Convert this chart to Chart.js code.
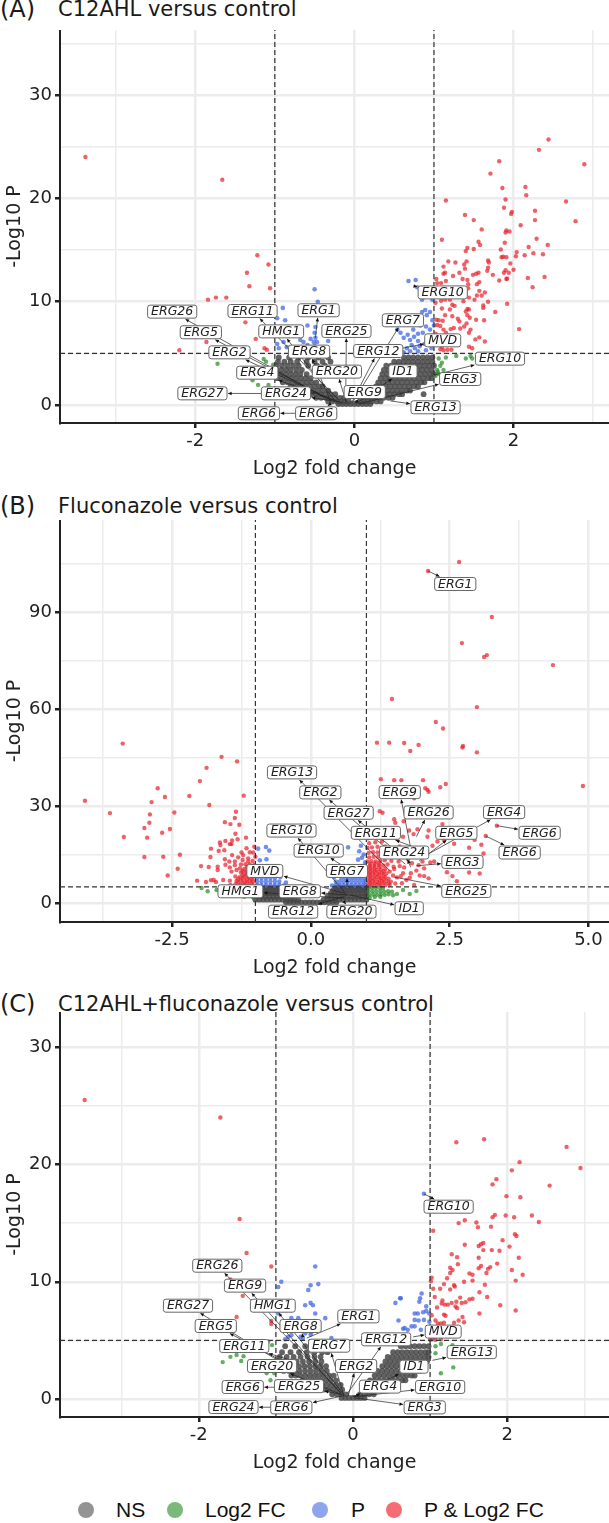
<!DOCTYPE html>
<html>
<head>
<meta charset="utf-8">
<script src="https://cdn.jsdelivr.net/npm/chart.js@4"></script>
<style>
  html, body { margin: 0; padding: 0; background: #fff; }
  body { position: relative; width: 609px; height: 1523px; overflow: hidden; font-family: "DejaVu Sans", sans-serif; color: #1a1a1a; }
  canvas { position: absolute; left: 0; }
  .tag { position: absolute; left: 0; font-size: 24px; line-height: 24px; }
  .head { position: absolute; left: 58px; font-size: 21px; line-height: 24px; white-space: nowrap; }
  .key { position: absolute; top: 1497px; font-family: "Liberation Sans", sans-serif; font-size: 21px; line-height: 26px; color: #111; white-space: nowrap; }
  .dot { position: absolute; top: 1502px; width: 16px; height: 16px; border-radius: 50%; }
</style>
</head>
<body>
<div class="tag" style="top:-3px">(A)</div><div class="head" style="top:-3px">C12AHL versus control</div>
<div class="tag" style="top:494px">(B)</div><div class="head" style="top:494px">Fluconazole versus control</div>
<div class="tag" style="top:992px">(C)</div><div class="head" style="top:992px">C12AHL+fluconazole versus control</div>
<canvas id="chart-a" width="609" height="450" style="top:30px"></canvas>
<canvas id="chart-b" width="609" height="459" style="top:520px"></canvas>
<canvas id="chart-c" width="609" height="462" style="top:1012px"></canvas>
<div class="dot" style="left:78px;background:rgba(77,77,77,.6)"></div><div class="key" style="left:116px">NS</div>
<div class="dot" style="left:167px;background:rgba(34,139,34,.6)"></div><div class="key" style="left:205px">Log2 FC</div>
<div class="dot" style="left:312px;background:rgba(65,105,225,.6)"></div><div class="key" style="left:351px">P</div>
<div class="dot" style="left:386px;background:rgba(240,30,40,.65)"></div><div class="key" style="left:424px">P &amp; Log2 FC</div>
<script>
// panel A
const redA = [[2.44,25.7],[2.32,24.7],[2.89,23.3],[1.82,23.6],[1.71,22.4],[1.86,21],[2.15,21.1],[2.16,20.3],[1.15,19.8],[1.9,19.9],[2.66,19.7],[1.88,19.1],[2.27,18.8],[1.98,18.7],[1.97,18.5],[1.39,18.4],[1.5,17.9],[2.27,17.9],[2.78,17.8],[2.09,17.4],[1.6,17],[1.91,16.9],[1.95,16.8],[1.9,16.7],[2.29,16.1],[1.1,16],[1.56,15.8],[1.58,15.5],[1.89,15.7],[2.43,15.5],[1.42,15.2],[1.5,15.1],[1.4,14.9],[1.84,15.05],[2.19,15.3],[2.04,14.8],[2.03,14.4],[2.25,14.7],[2.14,14.5],[2.37,14.6],[1.85,14.3],[1.87,14.35],[1.91,14.3],[1.18,13.9],[1.27,13.8],[1.41,13.9],[1.68,14],[1.69,13.8],[1.12,13.4],[1.38,13.6],[1.39,13.2],[1.68,13.3],[1.96,13.7],[1.94,12.8],[2,13.1],[1.9,13.05],[1.88,12.8],[1.14,12.8],[1.12,12.7],[1.24,12.5],[1.32,12.8],[1.67,13],[1.49,12.6],[1.53,12.7],[1.56,12.8],[1.74,12.6],[2.18,12.3],[2.39,12.4],[1.03,12.2],[1.04,11.8],[1.09,11.8],[1.15,12],[1.36,12.2],[1.42,12.1],[1.43,11.7],[1.57,11.9],[1.54,11.7],[1.82,12.05],[1.91,12.2],[1.92,12.25],[2.24,11.4],[1.43,11.3],[1.57,11.05],[1.64,10.9],[1.54,10.6],[1.6,10.6],[1.44,10.4],[1.51,10.2],[1.4,10.8],[1.02,9.9],[1.09,10.1],[1.14,10.2],[1.2,10.2],[1.37,10.05],[1.68,10],[1.92,9.8],[1.23,9.7],[1.26,9.6],[1.62,9.65],[1.62,9.4],[1.1,9.35],[1.2,9.25],[1.42,9.3],[1.44,9.25],[1.4,9.05],[1.77,9],[1.14,8.7],[1.23,8.6],[1.42,8.7],[1.45,8.45],[1.53,8.25],[1.63,8.2],[1.03,8.25],[1.06,8.2],[1.11,8.15],[1.3,8.35],[1.32,8.1],[1.41,7.9],[1.04,7.75],[1.08,7.65],[1.12,7.3],[1.21,7.35],[1.25,7.45],[1.33,7.4],[1.38,7.6],[1.46,7.3],[2.07,7.35],[1.02,6.9],[1.15,7],[1.44,7],[1.52,6.35],[1.57,6.55],[1.64,6.15],[1.08,5.4],[1.12,5.3],[1.17,5.35],[1.22,5.35],[1.1,5.65],[1.44,5.65],[1.48,5.5],[-3.38,24],[-1.66,21.8],[-1.22,14.5],[-1.08,13.6],[-1.35,12.8],[-1.32,11.5],[-1.06,11.3],[-1.84,10.2],[-1.74,10.4],[-1.61,10.4],[-1.37,8],[-1.24,6.4],[-1.86,6.1],[-2.2,5.3],[-1.13,5.5],[-1.1,5.35]];
const greenA = [[-1.72,4],[-1.14,4.45],[-1.11,4.2],[-1.02,3.9],[-1.21,1.95],[-1.08,1.95],[-1.28,2.4],[1.06,4.5],[1.15,4.6],[1.04,3.4],[1.08,3.8],[1.05,3.2],[1.12,3.4],[1.28,4.75],[1.4,4.5],[1.48,4.5],[1.46,4.75],[1.02,2.8],[1.06,3],[1.1,4.1]];
const blueA = [[-.5,11.2],[-.46,10],[-.9,9.4],[-.97,8.4],[-.87,8.2],[-.49,7.55],[-.59,7.7],[-.5,7],[-.89,6.1],[-.68,6.3],[-.33,6.2],[-.64,6.1],[-.55,6.4],[-.49,6.5],[-.51,6.1],[-.47,6.1],[-.59,5.8],[-.95,5.5],[-.97,5.9],[-.85,5.6],[-.5,5.7],[-.44,5.5],[.68,12],[.77,12.1],[.79,11.4],[.83,10.65],[.85,10.2],[.95,10.6],[.98,10.2],[.89,9.2],[.85,9],[.95,9],[.91,8.7],[.98,8.2],[1,7.7],[.54,7.3],[.58,7],[.67,6.8],[.74,7.3],[.83,7.7],[.95,7.3],[.9,7.6],[.62,6.5],[.7,6.3],[.75,6.6],[.8,6.2],[.72,5.8],[.66,5.5],[.76,5.5],[.82,5.7],[.88,5.9],[.94,6.2],[.98,6.7],[.7,5.2],[.8,5.2],[.9,5.3],[.97,5.5],[.62,5.1],[.92,6.7],[.86,7],[.8,6.9]];
const nsA = [
  [.1,-.2,-.15,-.1,-.05,0,.05,.1,.15,.2],
  [.35,-.33,-.28,-.22,-.17,-.12,-.07,.07,.12,.17,.22,.28,.33],
  [.7,-.48,-.42,-.36,-.3,-.24,-.18,-.13,.13,.19,.25,.31,.37,.43,.48],
  [1.05,-.6,-.54,-.48,-.42,-.36,-.3,-.24,.2,.26,.32,.38,.44,.5,.56,.6,.87],
  [1.4,-.7,-.64,-.58,-.52,-.46,-.4,-.33,.24,.3,.36,.42,.48,.54,.6,.66,.7],
  [1.8,-.8,-.74,-.68,-.62,-.56,-.5,-.44,-.4,.27,.33,.39,.45,.51,.57,.63,.69,.75,.8],
  [2.2,-.9,-.84,-.78,-.72,-.66,-.6,-.54,-.48,.3,.36,.42,.48,.54,.6,.66,.72,.78,.84,.88],
  [2.6,-.97,-.91,-.85,-.79,-.73,-.67,-.61,-.55,.33,.39,.45,.51,.57,.63,.69,.75,.81,.87,.93,.97],
  [3,-.98,-.92,-.86,-.8,-.74,-.68,-.6,.35,.41,.47,.53,.59,.65,.71,.77,.83,.89,.95,1],
  [3.4,-.98,-.92,-.86,-.8,-.73,-.66,-.5,-.42,.37,.43,.49,.55,.61,.67,.73,.79,.85,.91,.97],
  [3.8,-.98,-.91,-.84,-.77,-.7,-.58,-.47,-.37,.4,.46,.52,.58,.64,.7,.76,.82,.88,.94,1],
  [4.2,-.96,-.88,-.8,-.72,-.6,-.5,-.4,-.3,.5,.56,.62,.68,.74,.8,.86,.92,.98],
  [4.6,-.95,-.82,-.7,-.58,-.45,-.33,.62,.68,.74,.8,.86,.92,.98]
];
const gridXA = [-3,-2,-1,0,1,2,3], labelXA = {'-2':'-2','0':'0','2':'2'};
const gridYA = [0,5,10,15,20,25,30,35], labelYA = {'0':'0','10':'10','20':'20','30':'30'};
const genesA = [['ERG26',-2.29,9.04,-.35,.6],['ERG11',-1.28,9.1,-.2,.5],['ERG1',-.45,9.17,-.49,6.5],['HMG1',-.92,7.13,-.25,.5],['ERG5',-1.93,7.04,-.3,.5],['ERG25',-.1,7.17,-.11,.4],['ERG7',.61,8.2,-.02,.3],['MVD',1.11,6.26,.6,5.5],['ERG10',1.11,10.9,.76,11.5],['ERG2',-1.57,5.1,-.25,.4],['ERG8',-.57,5.17,-.3,.4],['ERG12',.3,5.23,-.03,.3],['ERG10',1.83,4.49,1,2.9],['ERG4',-1.22,3.13,-.15,.2],['ERG20',-.22,3.23,-.1,.2],['ID1',.61,3.26,.03,.2],['ERG3',1.33,2.52,.05,.1],['ERG27',-1.91,1.13,-.5,1.1],['ERG24',-.86,1.13,-.2,.3],['ERG9',.13,1.26,0,.1],['ERG13',1.02,-.22,.45,.4],['ERG6',-1.2,-.8,-.55,-.8],['ERG6',-.48,-.8,-.3,.1]];

// panel B
const redB = [[2.11,102.7],[2.67,105.5],[3.26,88.5],[2.72,80.4],[3.17,76.7],[3.12,76.1],[4.36,73.6],[1.46,63.1],[2.99,60.6],[2.25,56],[2.38,54],[2.74,48.6],[1.68,49.5],[1.19,49.6],[1.41,49.6],[1.94,48.9],[1.79,47],[2.73,48.1],[2.99,46.6],[4.9,36.2],[1.26,38.3],[1.5,38],[1.63,38],[2.02,38],[2.43,36.8],[2.33,35.8],[2.06,35.5],[2.12,34.4],[2.1,35],[1.86,32.4],[1.24,28.4],[1.29,27.9],[1.5,25.9],[1.52,24.8],[1.67,25.3],[2.37,24.4],[3.35,23.9],[3.15,20.7],[1.92,22.8],[1.77,22.4],[1.85,21.3],[1.66,20.5],[2.12,22.4],[2.1,20.5],[2.4,19.5],[2.28,19],[2.19,17.7],[2.58,18.3],[2.95,19.5],[3.07,18],[2.85,17.1],[3.11,15.3],[2.22,12.8],[2.15,12.5],[2.04,10.7],[2.45,9.5],[2.55,8.3],[2.85,9.4],[3.04,9.1],[2.63,6.7],[2.04,8.3],[2.12,7.6],[2.01,12.8],[1.94,11.7],[1.8,9.2],[1.66,9.2],[1.6,11.4],[1.82,12.3],[1.49,11.2],[1.72,7.1],[1.86,5.6],[1.64,6.1],[1.55,7.9],[1.42,9.7],
  [1.03,5.4],[1.1,5.5],[1.18,5.4],[1.26,5.5],[1.34,5.5],[1.42,5.6],[1.05,6.6],[1.12,6.7],[1.2,6.5],[1.28,6.7],[1.36,6.8],[1.44,6.6],[1.03,7.8],[1.1,7.8],[1.18,7.9],[1.26,7.7],[1.34,8],[1.05,9],[1.12,9.1],[1.2,9],[1.28,9.2],[1.36,9.1],[1.03,10.2],[1.1,10.3],[1.18,10.2],[1.26,10.4],[1.34,10.5],[1.06,11.5],[1.14,11.5],[1.22,11.7],[1.3,11.6],[1.38,11.9],[1.02,12.8],[1.09,12.9],[1.17,12.8],[1.25,13],[1.33,13.2],[1.45,13],[1.05,14.1],[1.13,14.3],[1.21,14.2],[1.3,14.5],[1.4,14.6],[1.04,15.5],[1.12,15.7],[1.2,15.6],[1.3,16],[1.42,16.2],[1.02,17],[1.1,17.2],[1.2,17.4],[1.34,17.5],[1.05,18.5],[1.16,18.8],[1.28,19],[1.03,20],[1.1,20.3],[1.42,20.5],[1.55,19.8],[1.6,17.5],[1.7,16],[1.85,15],[1.55,14.5],[1.75,13.5],
  [1.07,6],[1.15,6.1],[1.23,6],[1.31,6.2],[1.4,6.1],[1.07,7.2],[1.15,7.3],[1.23,7.2],[1.31,7.4],[1.4,7.5],[1.07,8.4],[1.15,8.5],[1.23,8.4],[1.31,8.6],[1.07,9.6],[1.15,9.7],[1.23,9.6],[1.31,9.8],[1.07,10.9],[1.15,10.9],[1.23,11],[1.07,12.1],[1.15,12.2],[1.23,12.3],[1.48,8.5],[1.52,6],[1.5,10.5],[1.62,8.3],[1.58,12.8],[1.68,11],[1.78,7.8],[1.9,10],[1.96,8.5],
  [-3.39,49.3],[-1.61,45.2],[-1.33,43.8],[-1.88,41.8],[-2,37.7],[-2.76,35.5],[-2.63,32.8],[-2.19,33.1],[-1.21,33.2],[-4.07,31.6],[-2.87,31.2],[-1.83,30.3],[-3.62,27.8],[-2.9,27.4],[-2.46,28],[-1.35,28.2],[-1.37,26.3],[-2.91,24.8],[-1.55,25],[-1.45,24.4],[-1.29,24.2],[-3,23.2],[-2.54,22.9],[-2.68,21.7],[-1.36,21.4],[-3.37,20.4],[-2.95,20.2],[-1.17,20.2],[-1.32,19.7],[-1.64,18.7],[-1.54,19.2],[-1.42,19.3],[-1.63,17.9],[-1.46,18.2],[-1.43,18.2],[-1.8,16.8],[-1.02,17.4],[-1.66,16.1],[-1.56,16.3],[-1.16,16.9],[-2.36,14.9],[-3,14.2],[-2.66,14.3],[-1.81,14.2],[-1.25,15.6],[-1.1,15.7],[-1.04,15.6],[-1.42,14.8],[-1.31,14.1],[-1.22,14.8],[-1.55,13.5],[-1.47,12.8],[-1.37,12.8],[-1.23,13.3],[-1.13,13.8],[-1,14.3],[-2.4,10.6],[-1.98,11.4],[-1.84,11.1],[-1.68,11.2],[-1.68,10.2],[-1.54,11.8],[-1.46,11],[-1.37,11.7],[-1.43,9.7],[-1.34,10.2],[-2.58,8.5],[-2.05,6.9],[-1.8,7],[-1.75,7.1],[-1.71,6.5],[-1.89,6.5],[-1.58,7.1],[-1.46,6.9],
  [-1.05,5.5],[-1.12,5.4],[-1.2,5.6],[-1.28,5.5],[-1.36,5.7],[-1.45,5.6],[-1.03,6.7],[-1.1,6.8],[-1.18,6.7],[-1.26,6.9],[-1.34,6.8],[-1.05,8],[-1.12,8],[-1.2,8.1],[-1.28,8],[-1.36,8.2],[-1.03,9.2],[-1.1,9.3],[-1.18,9.2],[-1.26,9.4],[-1.04,10.5],[-1.12,10.6],[-1.2,10.5],[-1.28,10.7],[-1.02,11.8],[-1.1,11.9],[-1.18,12],[-1.26,11.9],[-1.05,13],[-1.13,12.8],
  [-1.07,6.1],[-1.15,6.2],[-1.23,6.1],[-1.31,6.3],[-1.07,7.4],[-1.15,7.4],[-1.23,7.5],[-1.31,7.4],[-1.07,8.6],[-1.15,8.7],[-1.23,8.6],[-1.07,9.9],[-1.15,9.8],[-1.23,9.9],[-1.07,11.2],[-1.15,11.2]];
const greenB = [[1.04,4.6],[1.1,4.7],[1.17,4.6],[1.24,4.7],[1.3,4.6],[1.04,3.5],[1.11,3.6],[1.18,3.5],[1.25,3.6],[1.32,3.5],[1.39,3.6],[1.46,3.5],[1.05,2.5],[1.12,2.6],[1.19,2.5],[1.26,2.6],[1.33,2.5],[1.4,2.7],[1.48,2.4],[1.66,4],[1.78,2.8],[1.9,3.7],[1.55,2.8],[1.06,1.7],[1.15,1.8],[1.25,1.9],[-1.97,4.6],[-1.86,3.6],[-1.7,4],[-1.2,1.9],[-1.1,2.2],[-1.03,1.6],[-1.5,3.4]];
const blueB = [[-.81,17.3],[-.95,16.8],[-.75,16.2],[-.8,13.5],[-.92,13.2],[-.7,10],[-.95,11],[-.85,10.5],[-.55,8],[-.62,8.5],[-.97,5.5],[-.89,5.5],[-.81,5.5],[-.73,5.5],[-.65,5.5],[-.57,5.5],[-.49,5.4],[-.97,6.6],[-.89,6.6],[-.81,6.6],[-.73,6.6],[-.65,6.6],[-.57,6.6],[-.97,7.7],[-.89,7.7],[-.81,7.7],[-.73,7.7],[-.65,7.7],[-.97,8.8],[-.89,8.8],[-.81,8.8],[-.45,6.3],
  [.67,17.2],[.9,17.7],[.87,16],[.92,14],[.95,15],[.85,13.4],[.55,9],[.42,8],[.98,9],[.38,5.4],[.45,5.5],[.52,5.5],[.59,5.5],[.66,5.5],[.73,5.5],[.8,5.5],[.87,5.5],[.94,5.5],[.99,5.5],[.45,6.6],[.52,6.6],[.59,6.6],[.66,6.6],[.73,6.6],[.8,6.6],[.87,6.6],[.94,6.6],[.99,6.6],[.55,7.7],[.62,7.7],[.69,7.7],[.76,7.7],[.83,7.7],[.9,7.7],[.97,7.7],[.97,8.8],[.88,8.8],[.97,10],[.95,11.5],[.98,12.6]];
const nsB = [
  [.2,-.45,-.38,-.31,-.24,-.17,-.1,-.03,.04,.11,.18,.25,.32,.39,.46],
  [1,-1,-.93,-.86,-.79,-.72,-.65,-.58,-.51,-.44,-.37,-.3,-.23,.23,.3,.37,.44,.51,.58,.65,.72,.79,.86,.93,1],
  [2,-1.03,-.96,-.89,-.82,-.75,-.68,-.61,-.54,-.47,-.4,-.33,.3,.37,.44,.51,.58,.65,.72,.79,.86,.93,1],
  [3,-.98,-.91,-.84,-.77,-.7,-.63,-.56,-.49,-.42,.36,.43,.5,.57,.64,.71,.78,.85,.92,.99],
  [3.9,-.98,-.91,-.84,-.77,-.7,-.63,-.56,-.49,.4,.47,.54,.61,.68,.75,.82,.89,.96,1],
  [4.7,-.98,-.9,-.82,-.74,-.66,-.58,.45,.52,.59,.66,.73,.8,.87,.94,1]
];
const gridXB = [-3.75,-2.5,-1.25,0,1.25,2.5,3.75,5], labelXB = {'-2.5':'-2.5','0':'0.0','2.5':'2.5','5':'5.0'};
const gridYB = [0,15,30,45,60,75,90,105], labelYB = {'0':'0','30':'30','60':'60','90':'90'};
const genesB = [['ERG1',2.6,98.7,2.11,102.7],['ERG13',-.34,40.4,1.42,10],['ERG2',.17,34.2,1.7,12],['ERG9',1.6,34.3,1.82,15],['ERG27',.68,27.9,1.8,12.5],['ERG26',2.12,28,1.9,20.5],['ERG4',3.48,28.1,2.1,15],['ERG11',1.17,21.7,1.9,17],['ERG5',2.62,21.7,1.95,13],['ERG10',-.35,22.4,.65,2.5],['ERG10',.14,16.2,.62,11],['ERG24',1.68,15.6,1.8,11],['ERG6',4.12,21.7,3.35,23.9],['ERG6',3.76,15.6,3.15,20.7],['ERG3',2.73,12.7,1.9,11.5],['MVD',-.83,9.9,.6,3],['ERG7',.65,9.9,.65,5],['HMG1',-1.27,3.6,.6,1.5],['ERG8',-.2,3.6,.65,2.5],['ERG25',2.8,3.7,1.5,8],['ID1',1.77,-1.65,.7,2.5],['ERG12',-.32,-2.7,.6,2],['ERG20',.73,-2.7,.6,.3]];

// panel C
const redC = [[1.34,21.9],[1.7,22.15],[2.77,21.5],[2.95,19.7],[2.16,20.2],[2.06,19.5],[1.86,18.75],[1.81,18.3],[2.55,18.2],[1.99,17.3],[2.17,17.2],[1.84,15.7],[1.81,15.5],[1.98,15.65],[2.09,15.5],[2.32,15.65],[2.41,15.1],[1.45,15.25],[1.37,15],[1.6,15.05],[1.62,14.65],[1.79,14.7],[1.04,14.35],[2.1,14.05],[2.12,13.9],[1.94,13.55],[1.45,13.15],[1.63,13.05],[1.66,13.2],[1.69,13.3],[2.03,13],[1.69,12.7],[1.8,12.7],[1.9,12.65],[1.28,12.35],[1.35,12.1],[1.63,12.05],[2.15,12.05],[1.36,11.5],[1.87,11.55],[1.66,11.35],[1.63,11.15],[1.78,11.25],[1.75,11.1],[1.26,11.2],[1.29,11],[1.26,10.75],[2.06,11],[1.73,10.75],[2.2,10.6],[1.51,10.7],[1.55,10.6],[1.22,10.3],[1.55,10.1],[1.44,10],[2.11,10.1],[1.02,10.35],[1.01,10.05],[1.18,9.8],[1.31,9.7],[1.32,9.6],[1.71,9.75],[1.04,9.4],[1.13,9.4],[1.26,9.35],[1.64,9.1],[1.06,8.7],[1.39,8.65],[1.74,8.7],[1.16,8.4],[1.15,8.15],[1.19,8.05],[1.23,8.05],[1.28,8.2],[1.34,8.3],[1.41,8.2],[1.46,8.25],[1.51,8.5],[1.55,8.55],[1.91,8],[1.09,7.8],[1.33,7.9],[1.35,7.75],[2.11,7.55],[1.64,7.3],[1.18,7.2],[1.2,7.1],[1.02,7.15],[1.42,7],[1.37,6.7],[1.07,6.7],[1.31,6.5],[1.44,6.55],[1.1,6.45],[1.18,6.5],[1.14,6.45],[1.03,5.1],[1.07,5.05],[1.14,5.1],[1,5.05],[-3.48,25.5],[-1.72,24],[-1.47,15.35],[-1.38,12.45],[-1.06,11.3],[-1.59,10.2],[-1.43,8.8],[-1.51,7],[-1.06,6.65],[-1.06,6.4]];
const greenC = [[-1.69,3.15],[-1.59,3.6],[-1.51,3.75],[-1.42,3.65],[-1.45,3.25],[-1.12,2.2],[-1.02,2.2],[-1.07,1.6],[-1.1,4.9],[-1.05,4.6],[1.07,4.5],[1.14,4.7],[1.07,3.9],[1.3,2.7],[1.14,2.2],[1.29,4.6]];
const blueC = [[-.49,11.3],[-.93,10],[-.55,9.7],[-.45,9.8],[-.58,9.3],[-.97,9.55],[-.62,8],[-.55,8.2],[-.52,8],[-.49,7.3],[-.97,7.3],[-.8,6.9],[-.71,6.9],[-.36,6.9],[-.8,5.45],[-.84,5.3],[-.65,5.2],[-.55,5.5],[-.28,5.2],[-.88,5.1],[-.62,5.6],[-.68,5.3],[-.54,5.7],[.92,17.5],[.89,9],[.87,8.6],[.86,8.3],[.61,8.6],[.95,7.9],[.84,7.3],[.95,7.5],[.99,7.3],[.8,6.75],[.92,6.75],[.99,6.6],[.59,6.7],[.71,5.9],[.8,6.2],[.88,5.9],[.65,6],[.97,5.9],[.55,8.2],[.62,8.6],[.67,6.05],[.8,7.3],[.76,6.2],[.85,6.7],[.91,7.4]];
const nsC = [
  [.1,-.15,-.1,-.05,0,.05,.1,.15],
  [.4,-.27,-.21,-.15,-.09,.09,.15,.21,.27],
  [.8,-.38,-.32,-.26,-.2,-.14,.12,.18,.24,.3,.36,.4],
  [1.2,-.52,-.46,-.4,-.34,-.28,-.22,-.16,.16,.22,.28,.34,.4,.46,.52,.56,.87],
  [1.6,-.65,-.59,-.53,-.47,-.41,-.35,-.29,-.22,.22,.28,.34,.4,.46,.52,.58,.64,.68],
  [2,-.8,-.74,-.68,-.62,-.56,-.5,-.44,-.38,-.31,-.25,.28,.34,.4,.46,.52,.58,.64,.7,.76,.8],
  [2.4,-.9,-.83,-.76,-.69,-.62,-.55,-.48,-.41,-.34,.32,.38,.44,.5,.56,.62,.68,.74,.8,.86],
  [2.8,-.98,-.91,-.84,-.77,-.7,-.63,-.56,-.49,-.42,-.35,.38,.44,.5,.56,.62,.68,.74,.8,.86,.92],
  [3.2,-.97,-.89,-.81,-.73,-.65,-.57,-.49,-.41,.42,.48,.54,.6,.66,.72,.78,.84,.9,.96],
  [3.6,-.95,-.86,-.77,-.68,-.59,-.5,-.42,.45,.51,.57,.63,.69,.75,.81,.87,.93,.98],
  [4,-.92,-.81,-.7,-.6,-.5,-.4,-.33,.52,.58,.64,.7,.76,.82,.88,.94,.98],
  [4.5,-.88,-.75,-.62,-.5,-.38,-.3,.62,.68,.74,.8,.86,.92,.98]
];
const gridXC = [-3,-2,-1,0,1,2,3], labelXC = {'-2':'-2','0':'0','2':'2'};
const gridYC = [0,5,10,15,20,25,30], labelYC = {'0':'0','10':'10','20':'20','30':'30'};
const genesC = [['ERG26',-1.76,11.37,-.15,.5],['ERG9',-1.4,9.67,-.15,.4],['ERG27',-2.14,7.96,-.7,2.2],['HMG1',-1.04,7.96,-.12,.4],['ERG5',-1.78,6.23,-.85,3],['ERG1',.07,7.05,-.6,5.2],['ERG8',-.68,6.23,-.65,5.3],['ERG7',-.31,4.55,-.12,.3],['ERG12',.43,5.09,-.07,.5],['MVD',1.17,5.75,.78,5.3],['ERG13',1.54,4,1.03,3.3],['ERG11',-1.41,4.52,-.85,3.4],['ERG20',-1.05,2.82,-.12,.3],['ERG2',.04,2.82,-.06,.3],['ID1',.79,2.76,0,.2],['ERG6',-1.43,1.03,-.95,1],['ERG25',-.7,1.1,-.15,.4],['ERG4',.35,1.06,0,.2],['ERG10',1.13,1.03,.02,.2],['ERG24',-1.55,-.68,-1,-.7],['ERG6',-.8,-.71,-.15,.25],['ERG3',.93,-.71,.03,.1],['ERG10',1.24,16.4,.92,17.5]];

const FONT = '"DejaVu Sans", sans-serif';
const toPoints = rows => rows.map(p => ({ x: p[0], y: p[1] }));
const rowsToPoints = rows => rows.flatMap(r => r.slice(1).map(x => ({ x: x, y: r[0] })));

// boxes and arrows of the gene labels, placed through the chart's scales
const geneLabels = {
  id: 'geneLabels',
  afterDatasetsDraw(chart, args, opts) {
    const { ctx, scales: { x, y } } = chart;
    ctx.font = 'italic 12.5px ' + FONT;
    const boxes = opts.genes.map(g => ({
      name: g[0], cx: x.getPixelForValue(g[1]), cy: y.getPixelForValue(g[2]),
      gx: x.getPixelForValue(g[3]), gy: y.getPixelForValue(g[4]),
      w: ctx.measureText(g[0]).width + 7, h: 13
    }));
    ctx.save();
    ctx.strokeStyle = '#222'; ctx.fillStyle = '#111'; ctx.lineWidth = 0.7;
    boxes.forEach(b => {
      const dx = b.gx - b.cx, dy = b.gy - b.cy;
      const t = Math.min(dx ? (b.w / 2 + 1) / Math.abs(dx) : 9, dy ? (b.h / 2 + 1) / Math.abs(dy) : 9);
      if (t >= 1) return;
      const tx = b.cx + dx * t, ty = b.cy + dy * t;
      ctx.beginPath(); ctx.moveTo(b.gx, b.gy); ctx.lineTo(tx, ty); ctx.stroke();
      const a = Math.atan2(-dy, -dx);
      ctx.beginPath(); ctx.moveTo(tx, ty);
      ctx.lineTo(tx - 4 * Math.cos(a - 0.45), ty - 4 * Math.sin(a - 0.45));
      ctx.lineTo(tx - 4 * Math.cos(a + 0.45), ty - 4 * Math.sin(a + 0.45));
      ctx.closePath(); ctx.fill();
    });
    boxes.forEach(b => {
      ctx.beginPath();
      ctx.roundRect(b.cx - b.w / 2, b.cy - b.h / 2, b.w, b.h, 2.5);
      ctx.fillStyle = '#fff'; ctx.fill();
      ctx.strokeStyle = '#666'; ctx.lineWidth = 1; ctx.stroke();
      ctx.fillStyle = '#222'; ctx.font = 'italic 12.5px ' + FONT;
      ctx.textAlign = 'center'; ctx.textBaseline = 'middle';
      ctx.fillText(b.name, b.cx, b.cy + 0.5);
    });
    ctx.restore();
  }
};

function axis(min, max, gridVals, labelMap, title, isX) {
  return {
    type: 'linear', min: min, max: max,
    afterBuildTicks: s => { s.ticks = gridVals.map(v => ({ value: v })); },
    afterFit: s => {
      if (isX) s.height = 57; else s.width = 60;
      s.paddingTop = s.paddingBottom = s.paddingLeft = s.paddingRight = 0;
    },
    border: { display: true, color: '#222', width: 2 },
    grid: {
      color: '#ececec', drawTicks: true, tickLength: 5,
      lineWidth: c => (c.tick && labelMap[c.tick.value] !== undefined ? 2.5 : 1.5),
      tickColor: c => (c.tick && labelMap[c.tick.value] !== undefined ? '#222' : 'rgba(0,0,0,0)')
    },
    ticks: { autoSkip: false, maxRotation: 0, color: '#222', padding: 3, font: { family: FONT, size: 18 },
             callback: v => (labelMap[v] !== undefined ? labelMap[v] : '') },
    title: { display: true, text: title, color: '#222', font: { family: FONT, size: 19 }, padding: isX ? { top: 1, bottom: 0 } : { top: 4, bottom: 0 } }
  };
}

// thresholds: log2 FC = +/-1, -log10 P = 5
function dashLines(cfg) {
  const dash = (p, q) => ({ data: [p, q], showLine: true, pointRadius: 0, borderColor: '#333', borderWidth: 1.2, borderDash: [5, 3], order: 0 });
  return [dash({ x: -1, y: cfg.yMin }, { x: -1, y: cfg.yMax }), dash({ x: 1, y: cfg.yMin }, { x: 1, y: cfg.yMax }), dash({ x: cfg.xMin, y: 5 }, { x: cfg.xMax, y: 5 })];
}

function renderPanel(id, cfg) {
  const dots = (data, color, order, r) => ({ data: data, backgroundColor: color, borderWidth: 0, pointRadius: r, order: order });
  new Chart(document.getElementById(id), {
    type: 'scatter',
    data: { datasets: [
      ...dashLines(cfg),
      dots(toPoints(cfg.red), 'rgba(232,30,40,.7)', 1, 2.2),
      dots(toPoints(cfg.blue), 'rgba(65,105,225,.75)', 2, 2.3),
      dots(toPoints(cfg.green), 'rgba(34,139,34,.7)', 3, 2.2),
      dots(rowsToPoints(cfg.ns), 'rgba(70,70,70,.85)', 4, 2.9)
    ] },
    options: {
      responsive: false, animation: false, devicePixelRatio: 1,
      layout: { padding: 0, autoPadding: false },
      plugins: { legend: { display: false }, tooltip: { enabled: false }, geneLabels: { genes: cfg.genes } },
      scales: {
        x: axis(cfg.xMin, cfg.xMax, cfg.gridX, cfg.labelX, 'Log2 fold change', true),
        y: axis(cfg.yMin, cfg.yMax, cfg.gridY, cfg.labelY, '-Log10 P', false)
      }
    },
    plugins: [geneLabels]
  });
}

renderPanel('chart-a', { xMin: -3.7, xMax: 3.2, yMin: -1.74, yMax: 36.3, red: redA, blue: blueA, green: greenA, ns: nsA, gridX: gridXA, labelX: labelXA, gridY: gridYA, labelY: labelYA, genes: genesA });
renderPanel('chart-b', { xMin: -4.52, xMax: 5.37, yMin: -5.9, yMax: 118.5, red: redB, blue: blueB, green: greenB, ns: nsB, gridX: gridXB, labelX: labelXB, gridY: gridYB, labelY: labelYB, genes: genesB });
renderPanel('chart-c', { xMin: -3.8, xMax: 3.32, yMin: -1.53, yMax: 33, red: redC, blue: blueC, green: greenC, ns: nsC, gridX: gridXC, labelX: labelXC, gridY: gridYC, labelY: labelYC, genes: genesC });
</script>
</body>
</html>
